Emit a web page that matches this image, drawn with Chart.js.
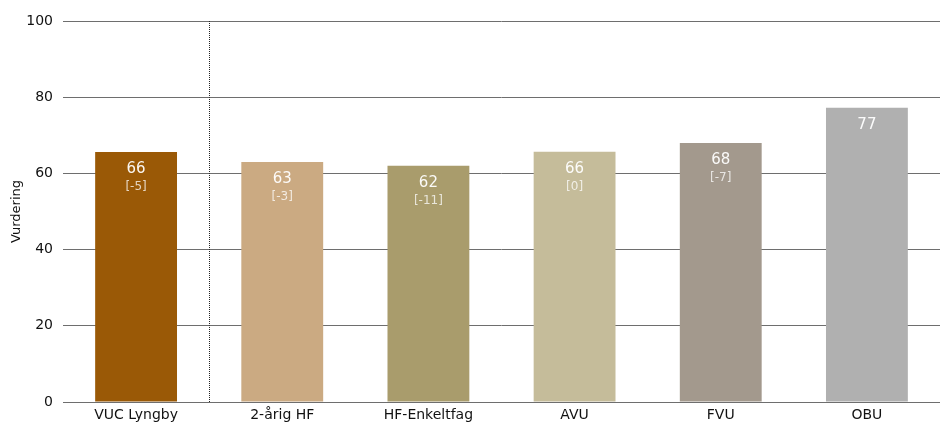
<!DOCTYPE html>
<html>
<head>
<meta charset="utf-8">
<script src="https://cdn.jsdelivr.net/npm/chart.js@4/dist/chart.umd.min.js"></script>
<style>
  html, body { margin: 0; padding: 0; background: #fff; }
  #wrap { width: 940px; height: 426px; }
</style>
</head>
<body>
<div id="wrap"><canvas id="chart" width="940" height="426"></canvas></div>
<script>
const categories = ['VUC Lyngby', '2-årig HF', 'HF-Enkeltfag', 'AVU', 'FVU', 'OBU'];
const values = [65.6, 63, 62, 65.7, 68, 77.2];
const changes = ['[-5]', '[-3]', '[-11]', '[0]', '[-7]', ''];
const colors = ['#9a5906', '#cbaa82', '#a99c6c', '#c5bc9a', '#a3998d', '#b0b0b0'];
const yTicks = [0, 20, 40, 60, 80, 100];

const FONT = 'DejaVu Sans';

// labels inside the bars + dotted separator after the first bar
const barLabels = {
  id: 'barLabels',
  afterDatasetsDraw(chart) {
    const ctx = chart.ctx;
    const meta = chart.getDatasetMeta(0);
    ctx.save();
    ctx.textAlign = 'center';
    ctx.textBaseline = 'middle';
    meta.data.forEach((bar, i) => {
      ctx.fillStyle = 'rgba(255,255,255,0.95)';
      ctx.font = '15px ' + FONT;
      ctx.fillText(Math.round(values[i]), bar.x, bar.y + 17);
      if (changes[i]) {
        ctx.fillStyle = 'rgba(255,255,255,0.75)';
        ctx.font = '12px ' + FONT;
        ctx.fillText(changes[i], bar.x, bar.y + 35);
      }
    });
    // separator
    const x = chart.scales.x;
    const sx = Math.round((x.getPixelForValue(0) + x.getPixelForValue(1)) / 2) + 0.5;
    ctx.strokeStyle = '#222';
    ctx.lineWidth = 1;
    ctx.setLineDash([1, 1]);
    ctx.beginPath();
    ctx.moveTo(sx, chart.chartArea.top);
    ctx.lineTo(sx, chart.chartArea.bottom);
    ctx.stroke();
    ctx.restore();
  }
};

new Chart(document.getElementById('chart'), {
  type: 'bar',
  data: {
    labels: categories,
    datasets: [{
      data: values,
      backgroundColor: colors,
      borderWidth: 0,
      barPercentage: 0.56,
      categoryPercentage: 1
    }]
  },
  options: {
    responsive: false,
    animation: false,
    devicePixelRatio: 1,
    layout: { padding: { top: 21, right: 0, left: 9, bottom: 0 } },
    plugins: {
      legend: { display: false },
      tooltip: { enabled: false }
    },
    scales: {
      x: {
        afterFit(axis) { axis.height = 24; },
        grid: { display: false, drawTicks: false },
        border: { color: '#6e6e6e' },
        ticks: { color: '#111', font: { family: FONT, size: 14 }, padding: 5 }
      },
      y: {
        min: 0,
        max: 100,
        afterBuildTicks(axis) { axis.ticks = yTicks.map(v => ({ value: v })); },
        afterFit(axis) { axis.width = 54; },
        grid: { color: '#6e6e6e', drawTicks: false },
        border: { display: false },
        ticks: { color: '#111', font: { family: FONT, size: 14 }, padding: 10 },
        title: { display: true, text: 'Vurdering', color: '#111', font: { family: FONT, size: 13 }, padding: { top: 0, bottom: 0 } }
      }
    }
  },
  plugins: [barLabels]
});
</script>
</body>
</html>
